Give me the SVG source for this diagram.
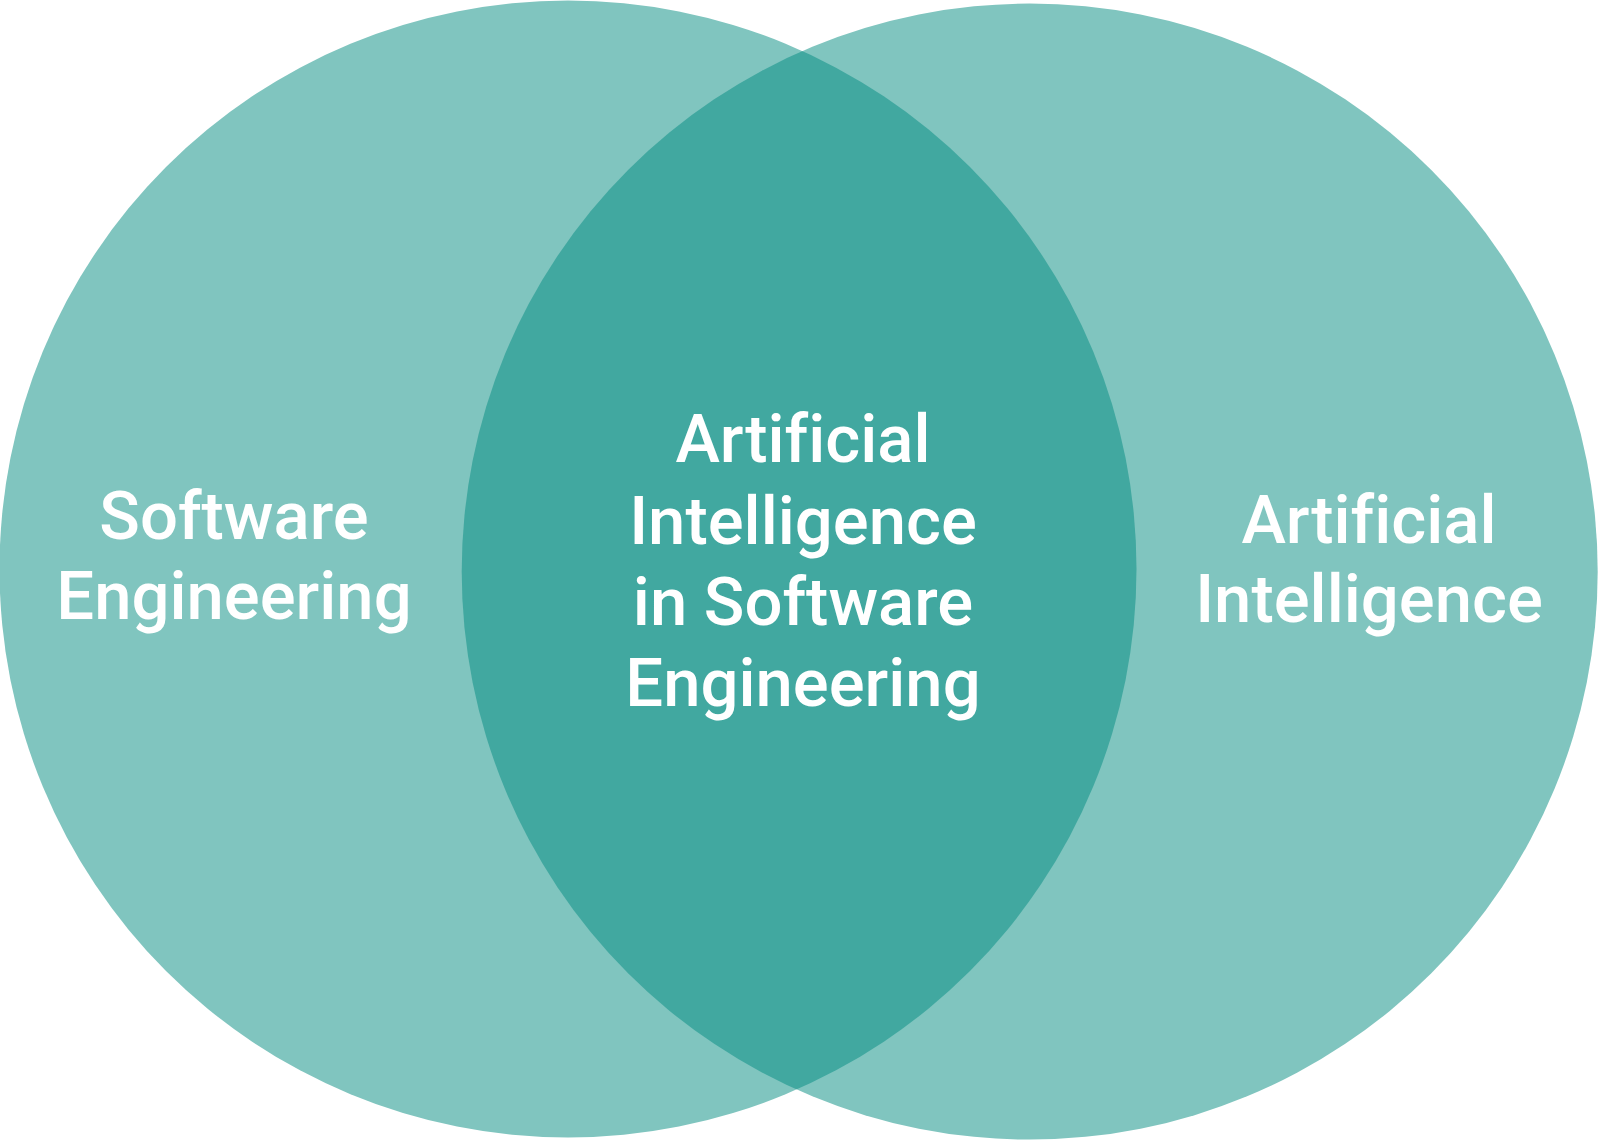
<svg xmlns="http://www.w3.org/2000/svg" width="1600" height="1141" viewBox="0 0 1600 1141">
<style>
.c{fill:#80C5BF}
.x{fill:#41A8A0}
.t{fill:#FFFFFF;font-family:Roboto,"Liberation Sans",sans-serif;font-weight:500;font-size:67px;text-anchor:middle;font-variant-ligatures:none;font-feature-settings:"liga" 0}
</style>
<defs>
<clipPath id="clipL"><circle cx="568" cy="569" r="568.5"/></clipPath>
</defs>
<rect width="1600" height="1141" fill="#FFFFFF"/>
<g id="circle-se"><circle class="c" cx="568" cy="569" r="568.5"/></g>
<g id="circle-ai"><circle class="c" cx="1029.7" cy="571.6" r="568"/></g>
<g id="intersection"><circle class="x" cx="1029.7" cy="571.6" r="568" clip-path="url(#clipL)"/></g>
<g id="connectors"></g>
<g id="label-se">
<text class="t" x="234" y="539">Software</text>
<text class="t" x="234" y="619">Engineering</text>
</g>
<g id="label-center">
<text class="t" x="803" y="462">Artificial</text>
<text class="t" x="803" y="544">Intelligence</text>
<text class="t" x="803" y="625">in Software</text>
<text class="t" x="803" y="706">Engineering</text>
</g>
<g id="label-ai">
<text class="t" x="1369" y="543">Artificial</text>
<text class="t" x="1369" y="622">Intelligence</text>
</g>
</svg>
